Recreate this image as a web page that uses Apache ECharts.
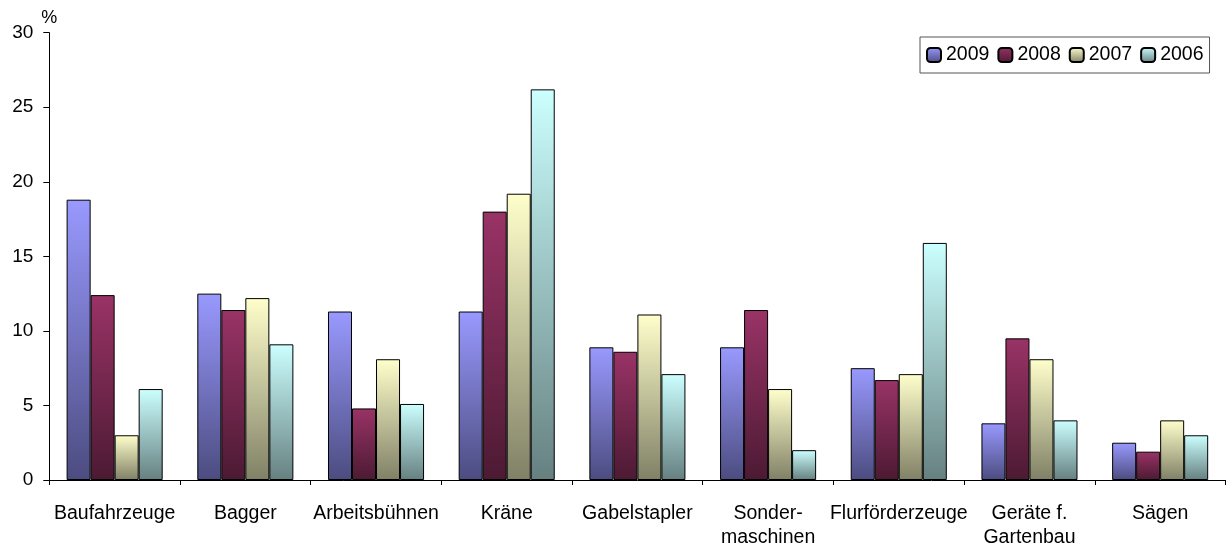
<!DOCTYPE html>
<html>
<head>
<meta charset="utf-8">
<script src="https://cdn.jsdelivr.net/npm/echarts@6/dist/echarts.min.js"></script>
<style>
html,body{margin:0;padding:0;background:#fff;}
#chart{width:1227px;height:549px;}
</style>
</head>
<body>
<div id="chart"></div>
<script>
const categories = ['Baufahrzeuge','Bagger','Arbeitsbühnen','Kräne','Gabelstapler','Sonder-\nmaschinen','Flurförderzeuge','Geräte f.\nGartenbau','Sägen'];
const years = ['2009','2008','2007','2006'];
const v2009 = [18.8, 12.5, 11.3, 11.3, 8.9, 8.9, 7.5, 3.8, 2.5];
const v2008 = [12.4, 11.4, 4.8, 18.0, 8.6, 11.4, 6.7, 9.5, 1.9];
const v2007 = [3.0, 12.2, 8.1, 19.2, 11.1, 6.1, 7.1, 8.1, 4.0];
const v2006 = [6.1, 9.1, 5.1, 26.2, 7.1, 2.0, 15.9, 4.0, 3.0];
const yTicks = [0, 5, 10, 15, 20, 25, 30];

const topColors = ['#9999FF', '#993366', '#FFFFCC', '#CCFFFF'];
const bottomColors = ['#4C4C80', '#4C1A33', '#808066', '#668080'];
const seriesValues = [v2009, v2008, v2007, v2006];

const FONT = 'Liberation Sans, Arial, sans-serif';

const chart = echarts.init(document.getElementById('chart'), null, {renderer: 'canvas'});
chart.setOption({
  animation: false,
  backgroundColor: '#fff',
  textStyle: {fontFamily: FONT},
  grid: {left: 49.3, right: 1.5, top: 32.7, bottom: 67.3, containLabel: false},
  legend: {
    left: 920, top: 37,
    orient: 'horizontal',
    itemWidth: 14, itemHeight: 14, itemGap: 8,
    padding: [8, 6, 8, 6],
    borderColor: '#555', borderWidth: 1,
    textStyle: {fontFamily: FONT, fontSize: 19.5, color: '#000'},
    data: years
  },
  xAxis: {
    type: 'category',
    data: categories,
    boundaryGap: true,
    axisLine: {lineStyle: {color: '#000', width: 1}},
    axisTick: {show: true, length: 5, lineStyle: {color: '#000'}},
    axisLabel: {interval: 0, color: '#000', fontSize: 19.5, fontFamily: FONT, margin: 22, lineHeight: 23.5}
  },
  yAxis: {
    type: 'value',
    min: yTicks[0], max: yTicks[yTicks.length - 1], interval: 5,
    name: '%',
    nameGap: 6,
    nameTextStyle: {color: '#000', fontSize: 18, fontFamily: FONT},
    splitLine: {show: false},
    axisLine: {show: true, lineStyle: {color: '#000', width: 1}},
    axisTick: {show: true, length: 6, lineStyle: {color: '#000'}},
    axisLabel: {color: '#000', fontSize: 19, fontFamily: FONT, margin: 16}
  },
  series: years.map((y, i) => ({
    name: y,
    type: 'bar',
    data: seriesValues[i],
    barGap: '0%',
    barCategoryGap: '26.5%',
    itemStyle: {
      color: new echarts.graphic.LinearGradient(0, 0, 0, 1, [
        {offset: 0, color: topColors[i]},
        {offset: 1, color: bottomColors[i]}
      ]),
      borderColor: '#000',
      borderWidth: 1
    }
  }))
});
</script>
</body>
</html>
